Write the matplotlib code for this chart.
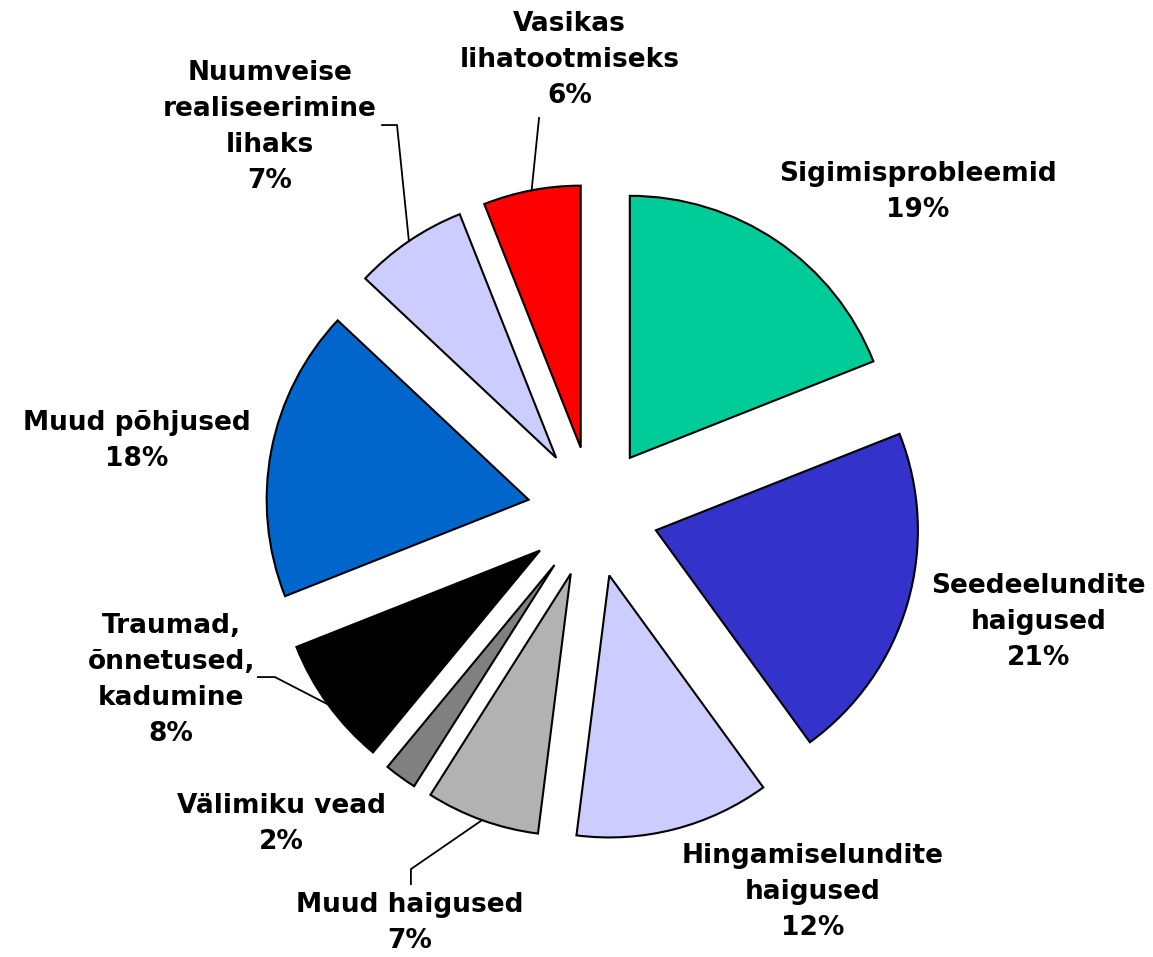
import matplotlib
matplotlib.use("Agg")
import numpy as np
import matplotlib.pyplot as plt

# data, clockwise from 12 o'clock
labels = [
    "Sigimisprobleemid",
    "Seedeelundite\nhaigused",
    "Hingamiselundite\nhaigused",
    "Muud haigused",
    "Välimiku vead",
    "Traumad,\nõnnetused,\nkadumine",
    "Muud põhjused",
    "Nuumveise\nrealiseerimine\nlihaks",
    "Vasikas\nlihatootmiseks",
]
values = [19, 21, 12, 7, 2, 8, 18, 7, 6]
colors = ["#00CC99", "#3333CC", "#CCCCFF", "#B2B2B2", "#808080",
          "#000000", "#0066CC", "#CCCCFF", "#FF0000"]

# label centres in pie-radius units (layout)
label_pos = [(1.24, 1.22), (1.70, -0.42), (0.84, -1.45), (-0.70, -1.57),
             (-1.19, -1.19), (-1.61, -0.64), (-1.74, 0.27), (-1.233, 1.47),
             (-0.09, 1.725)]
# extra leader line points (after the point on the slice edge)
leaders = {
    3: [(-0.695, -1.363), (-0.695, -1.42)],
    5: [(-1.214, -0.630), (-1.279, -0.630)],
    7: [(-0.748, 1.477), (-0.805, 1.477)],
    8: [(-0.206, 1.504)],
}

explode = 0.25
W, H = 1153, 957
cx, cy, r = 593, 512, 262  # pixel centre / radius

fig = plt.figure(figsize=(W / 100, H / 100), dpi=100)
ax = fig.add_axes([0, 0, 1, 1])
ax.pie(values, colors=colors, startangle=90, counterclock=False,
       explode=[explode] * len(values),
       wedgeprops=dict(edgecolor="black", linewidth=1.5))
ax.set_xlim(-cx / r, (W - cx) / r)
ax.set_ylim(-(H - cy) / r, cy / r)
ax.set_aspect("equal")
ax.axis("off")

total = sum(values)
cum = np.cumsum([0] + values)
for i, (lab, v) in enumerate(zip(labels, values)):
    x, y = label_pos[i]
    ax.text(x, y, f"{lab}\n{round(100 * v / total)}%", ha="center", va="center",
            multialignment="center", fontsize=19, fontweight="bold",
            family="DejaVu Sans", linespacing=1.5)
    if i in leaders:
        mid = np.deg2rad(90 - 360 * (cum[i] + v / 2) / total)
        pts = [((1 + explode) * np.cos(mid), (1 + explode) * np.sin(mid))] + leaders[i]
        xs, ys = zip(*pts)
        ax.plot(xs, ys, color="black", lw=1.3)

fig.savefig("out.png", dpi=100)
